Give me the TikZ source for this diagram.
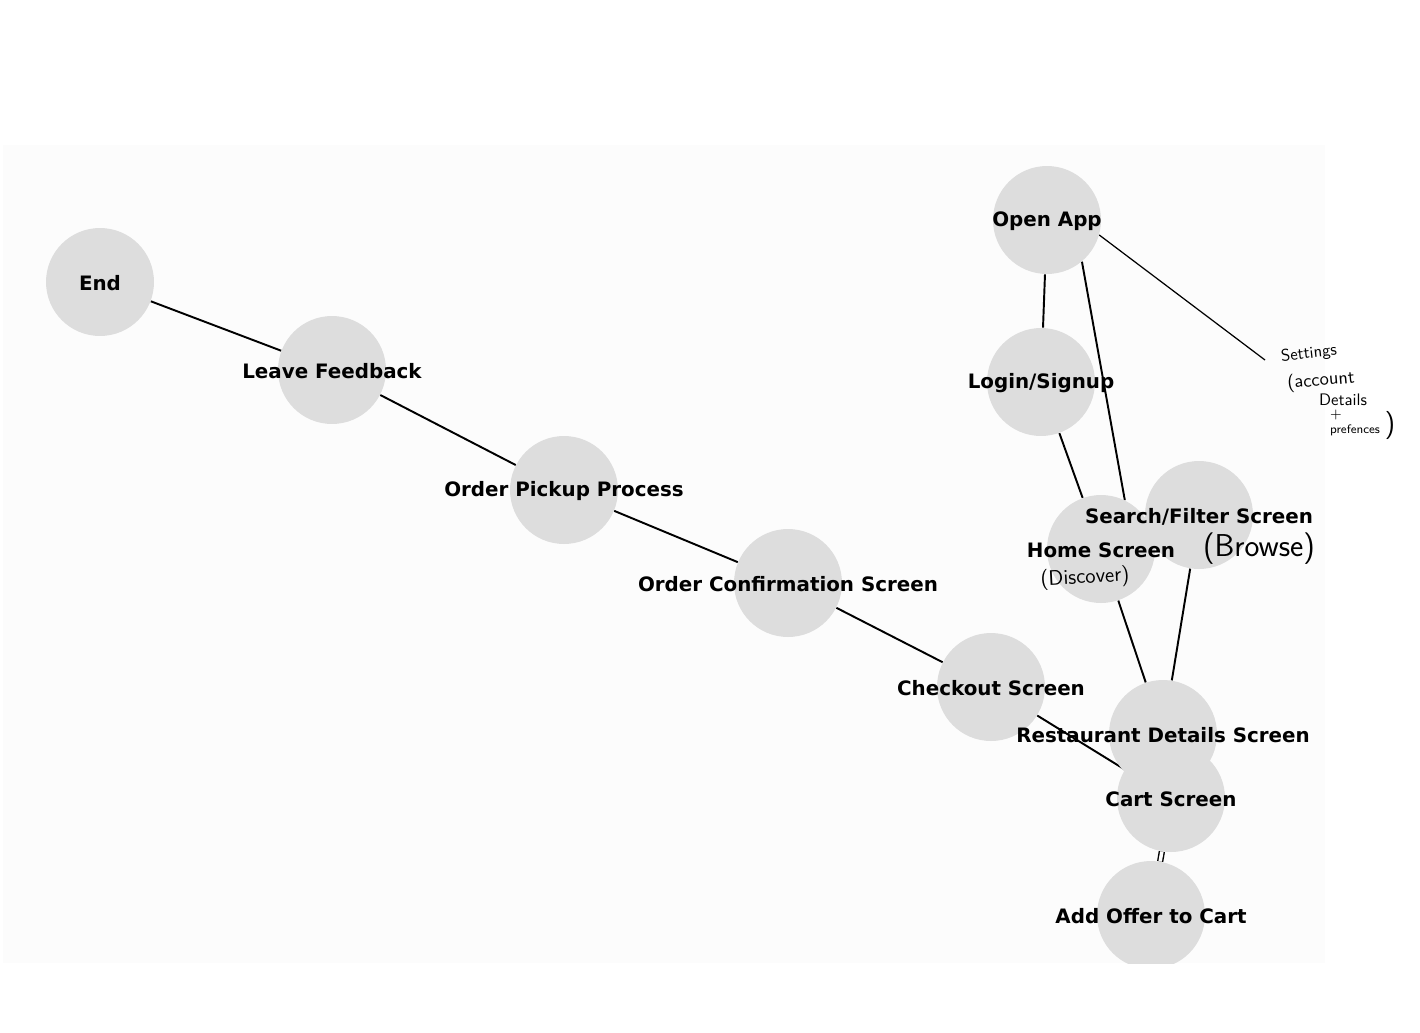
\documentclass[tikz,border=0pt]{standalone}
\usepackage{fontspec}
\setmainfont{DejaVu Sans}
\usetikzlibrary{backgrounds}
\definecolor{nodegray}{HTML}{DDDDDD}
\definecolor{panel}{HTML}{FCFCFC}

\begin{document}
\begin{tikzpicture}[x=0.02cm, y=-0.02cm,
  screen/.style={circle, fill=nodegray, minimum size=2.16cm, inner sep=0pt},
  screenlabel/.style={font=\fontsize{11.3}{13}\selectfont\bfseries, inner sep=0pt, yshift=-0.03cm},
  link/.style={line width=1.1pt},
  scribble/.style={font=\sffamily, inner sep=0pt}]
  \useasboundingbox (0,0) rectangle (1420,1032);

  % Screens
  \begin{scope}
    \clip (3,145) rectangle (1325,963);
    \node[screen] (open) at (1047,220) {};
    \node[screen] (login) at (1041,382) {};
    \node[screen] (home) at (1101,549) {};
    \node[screen] (search) at (1199,515) {};
    \node[screen] (restaurant) at (1163,734) {};
    \node[screen] (cart) at (1171,798) {};
    \node[screen] (offer) at (1151,915) {};
    \node[screen] (checkout) at (991,687) {};
    \node[screen] (confirm) at (788,583) {};
    \node[screen] (pickup) at (564,490) {};
    \node[screen] (feedback) at (332,370) {};
    \node[screen] (endnode) at (100,282) {};
  \end{scope}

  % Labels
  \node[screenlabel] at (open) {Open App};
  \node[screenlabel] at (login) {Login/Signup};
  \node[screenlabel] at (home) {Home Screen};
  \node[screenlabel] at (search) {Search/Filter Screen};
  \node[screenlabel] at (restaurant) {Restaurant Details Screen};
  \node[screenlabel] at (cart) {Cart Screen};
  \node[screenlabel] at (offer) {Add Offer to Cart};
  \node[screenlabel] at (checkout) {Checkout Screen};
  \node[screenlabel] at (confirm) {Order Confirmation Screen};
  \node[screenlabel] at (pickup) {Order Pickup Process};
  \node[screenlabel] at (feedback) {Leave Feedback};
  \node[screenlabel] at (endnode) {End};

  % Notes
  \node[scribble, font=\sffamily\fontsize{9.5}{10}\selectfont, rotate=6] (setnote) at (1309,354) {Settings};
  \node[scribble, font=\sffamily\fontsize{10.5}{11}\selectfont, rotate=5] (acctnote) at (1321,381) {(account};
  \node[scribble, font=\sffamily\fontsize{9.5}{10}\selectfont] (detnote) at (1343,400) {Details};
  \node[scribble, font=\sffamily\fontsize{8}{9}\selectfont] (plusnote) at (1336,415) {+};
  \node[scribble, font=\sffamily\fontsize{7}{8}\selectfont] (prefnote) at (1355,430) {prefences};
  \node[scribble, font=\sffamily\fontsize{16}{17}\selectfont] (closenote) at (1390,425) {)};
  \node[scribble, font=\sffamily\fontsize{18}{19}\selectfont] (browsenote) at (1259,549) {(Browse)};
  \node[scribble, font=\sffamily\fontsize{12}{13}\selectfont, rotate=3] (discnote) at (1085,578) {(Discover)};
  \coordinate (settings) at (1265,360);

  % Links
  \begin{scope}[on background layer]
    \fill[panel] (3,145) rectangle (1325,963);
    \draw[link] (endnode) -- (feedback);
    \draw[link] (feedback) -- (pickup);
    \draw[link] (pickup) -- (confirm);
    \draw[link] (confirm) -- (checkout);
    \draw[link] (checkout) -- (cart);
    \draw[link] (open) -- (login);
    \draw[link] (open.-50) -- (home.64);
    \draw[link] (login) -- (home);
    \draw[link] (home) -- (restaurant);
    \draw[link] (search) -- (restaurant);
    \draw[line width=0.8pt, double=panel, double distance=0.07cm] (cart) -- (offer);
    \draw[line width=0.7pt] (open.-16) -- (settings);
  \end{scope}
\end{tikzpicture}
\end{document}
